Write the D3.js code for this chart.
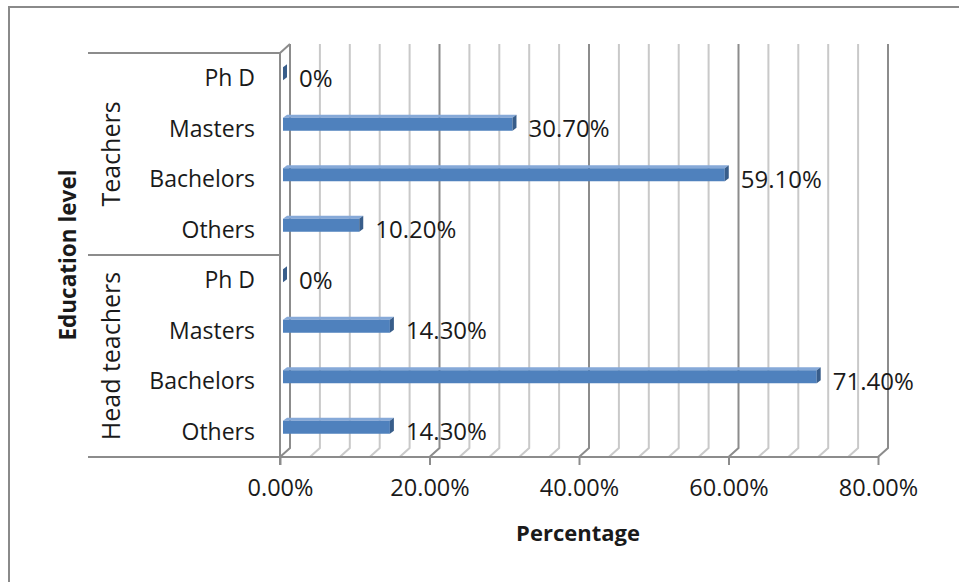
<!DOCTYPE html>
<html>
<head>
<meta charset="utf-8">
<script src="https://d3js.org/d3.v7.min.js"></script>
<style>
    body { margin: 0; background: #fff; }
    text { font-family: "Open Sans", sans-serif; fill: #1a1a1a; }
</style>
</head>
<body>
<script>
//chart data (rows listed top to bottom inside each group)
var groups = ["Teachers", "Head teachers"];
var levels = ["Ph D", "Masters", "Bachelors", "Others"];
var teachers = [0, 30.7, 59.1, 10.2];
var headTeachers = [0, 14.3, 71.4, 14.3];
var xTicks = [0, 20, 40, 60, 80];
var gridStep = 4; //back wall lines every 4%

window.onload = setChart();

function setChart(){
    var width = 959,
        height = 582;

    var svg = d3.select("body")
        .append("svg")
        .attr("width", width)
        .attr("height", height);

    //outer chart border
    svg.append("rect")
        .attr("x", 9).attr("y", 7)
        .attr("width", 960).attr("height", 590)
        .attr("fill", "none")
        .attr("stroke", "#8a8a8a")
        .attr("stroke-width", 2);

    //front plot frame
    var left = 280, right = 878, top = 53, bottom = 457;
    var depthX = 10, depthY = 9; //3d depth of the back wall

    var x = d3.scaleLinear().domain([0, 80]).range([left, right]);

    //build the rows from the arrays
    var rows = [];
    [teachers, headTeachers].forEach(function(vals, g){
        vals.forEach(function(v, i){
            rows.push({key: g + "-" + i, group: groups[g], level: levels[i], value: v});
        });
    });

    var y = d3.scaleBand()
        .domain(rows.map(function(d){ return d.key; }))
        .range([top, bottom]);

    //back wall grid lines, with the floor diagonal down to the front
    var grid = d3.range(0, 80 + gridStep, gridStep);
    svg.selectAll(".grid")
        .data(grid)
        .enter()
        .append("path")
        .attr("class", "grid")
        .attr("d", function(d){
            var bx = x(d) + depthX;
            return "M" + bx + "," + (top - depthY) + "V" + (bottom - depthY) + "L" + x(d) + "," + bottom;
        })
        .attr("fill", "none")
        .attr("stroke", function(d){ return d % 20 === 0 ? "#8c8c8c" : "#c9c9c9"; })
        .attr("stroke-width", 2);

    //left side wall
    svg.append("path")
        .attr("d", "M" + left + "," + top + "L" + (left + depthX) + "," + (top - depthY))
        .attr("fill", "none").attr("stroke", "#8c8c8c").attr("stroke-width", 2);

    //value axis line and ticks
    svg.append("line")
        .attr("x1", 88).attr("x2", right)
        .attr("y1", bottom).attr("y2", bottom)
        .attr("stroke", "#8c8c8c").attr("stroke-width", 2);

    var xAxis = d3.axisBottom(x)
        .tickValues(xTicks)
        .tickSize(8)
        .tickPadding(14)
        .tickFormat(function(d){ return d.toFixed(2) + "%"; });

    var gx = svg.append("g")
        .attr("transform", "translate(0," + bottom + ")")
        .call(xAxis);
    gx.select(".domain").remove();
    gx.selectAll(".tick line").attr("stroke", "#8c8c8c").attr("stroke-width", 2);
    gx.selectAll(".tick text")
        .attr("font-size", 23.5)
        .attr("font-family", "Open Sans, sans-serif")
        .attr("fill", "#1a1a1a");

    //category axis line
    svg.append("line")
        .attr("x1", left).attr("x2", left)
        .attr("y1", top).attr("y2", bottom + 8)
        .attr("stroke", "#8c8c8c").attr("stroke-width", 2);

    //group separators
    var seps = [top, y("1-0")];
    svg.selectAll(".sep")
        .data(seps)
        .enter()
        .append("line")
        .attr("class", "sep")
        .attr("x1", 88).attr("x2", left)
        .attr("y1", function(d){ return d; })
        .attr("y2", function(d){ return d; })
        .attr("stroke", "#8c8c8c").attr("stroke-width", 2);

    //category labels
    svg.selectAll(".cat")
        .data(rows)
        .enter()
        .append("text")
        .attr("class", "cat")
        .attr("x", 255)
        .attr("y", function(d){ return y(d.key) + y.bandwidth() / 2; })
        .attr("dy", "0.35em")
        .attr("text-anchor", "end")
        .attr("font-size", 23)
        .text(function(d){ return d.level; });

    //group labels
    svg.selectAll(".grp")
        .data(groups)
        .enter()
        .append("text")
        .attr("class", "grp")
        .attr("transform", function(d, g){
            var cy = y(g + "-0") + y.bandwidth() * 2;
            return "translate(111," + cy + ") rotate(-90)";
        })
        .attr("dy", "0.35em")
        .attr("text-anchor", "middle")
        .attr("font-size", 25)
        .text(function(d){ return d; });

    //3d bars
    var barH = 13, bdx = 4, bdy = 3, shift = -4.5, off = 3;
    var bars = svg.selectAll(".bar")
        .data(rows)
        .enter()
        .append("g")
        .attr("class", "bar");

    //top face
    bars.append("path")
        .attr("d", function(d){
            var x0 = x(0) + off, x1 = x(d.value) + off;
            var y0 = y(d.key) + y.bandwidth() / 2 + shift - barH / 2;
            return "M" + x0 + "," + y0 + "L" + (x0 + bdx) + "," + (y0 - bdy) + "L" + (x1 + bdx) + "," + (y0 - bdy) + "L" + x1 + "," + y0 + "Z";
        })
        .attr("fill", "#86a9d8");

    //front face
    bars.append("rect")
        .attr("x", x(0) + off)
        .attr("y", function(d){ return y(d.key) + y.bandwidth() / 2 + shift - barH / 2; })
        .attr("width", function(d){ return x(d.value) - x(0); })
        .attr("height", barH)
        .attr("fill", "#4f81bd");

    //end face
    bars.append("path")
        .attr("d", function(d){
            var x1 = x(d.value) + off;
            var y0 = y(d.key) + y.bandwidth() / 2 + shift - barH / 2;
            return "M" + x1 + "," + y0 + "L" + (x1 + bdx) + "," + (y0 - bdy) + "L" + (x1 + bdx) + "," + (y0 - bdy + barH) + "L" + x1 + "," + (y0 + barH) + "Z";
        })
        .attr("fill", "#385d8a");

    //data labels
    svg.selectAll(".val")
        .data(rows)
        .enter()
        .append("text")
        .attr("class", "val")
        .attr("x", function(d){ return x(d.value) + 19; })
        .attr("y", function(d){ return y(d.key) + y.bandwidth() / 2; })
        .attr("dy", "0.35em")
        .attr("font-size", 24)
        .text(function(d){ return d.value === 0 ? "0%" : d.value.toFixed(2) + "%"; });

    //axis titles
    svg.append("text")
        .attr("x", 578).attr("y", 533)
        .attr("dy", "0.35em")
        .attr("text-anchor", "middle")
        .attr("font-size", 22)
        .attr("font-weight", "bold")
        .text("Percentage");

    svg.append("text")
        .attr("transform", "translate(68," + (y("1-0")) + ") rotate(-90)")
        .attr("dy", "0.35em")
        .attr("text-anchor", "middle")
        .attr("font-size", 22.5)
        .attr("font-weight", "bold")
        .text("Education level");
};
</script>
</body>
</html>
